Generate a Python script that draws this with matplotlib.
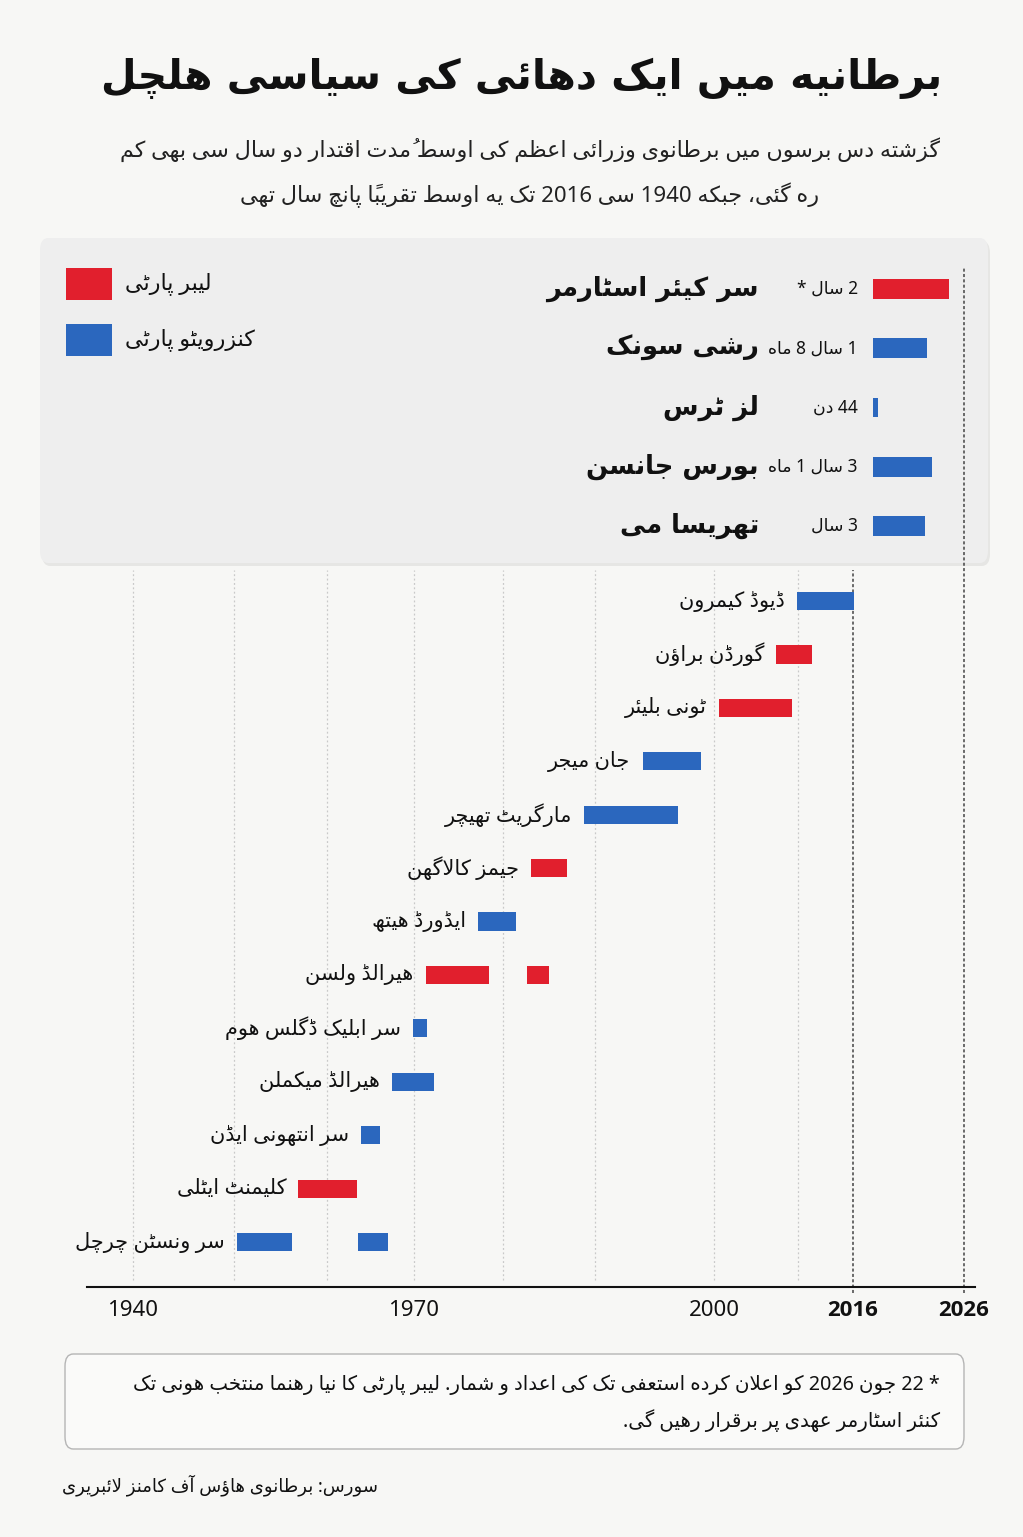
"""
UK prime ministers timeline (Urdu infographic) -> out.png
"""
import os

import numpy as np
import matplotlib
matplotlib.use("Agg")
import matplotlib.pyplot as plt
from matplotlib import font_manager
from matplotlib.font_manager import FontProperties
from matplotlib.patches import FancyBboxPatch, Rectangle

# ---------------- data ----------------
# last decade, shown in the top panel (bar length in years, as drawn)
RECENT_NAMES = ["سر کیئر اسٹارمر", "رشی سونک", "لز ٹرس", "بورس جانسن", "تھریسا مے"]
RECENT_LABELS = ["2 سال *", "1 سال 8 ماہ", "44 دن", "3 سال 1 ماہ", "3 سال"]
RECENT_PARTY = ["L", "C", "C", "C", "C"]
RECENT_LEN = [2.0, 1.42, 0.13, 1.55, 1.37]

# 1940-2016 timeline, top row first
PM_NAMES = ["ڈیوڈ کیمرون", "گورڈن براؤن", "ٹونی بلیئر", "جان میجر", "مارگریٹ تھیچر",
            "جیمز کالاگھن", "ایڈورڈ ہیتھ", "ہیرالڈ ولسن", "سر ابلیک ڈگلس ہوم",
            "ہیرالڈ میکملن", "سر انتھونی ایڈن", "کلیمنٹ ایٹلی", "سر ونسٹن چرچل"]
PM_PARTY = ["C", "L", "L", "C", "C", "L", "C", "L", "C", "C", "C", "L", "C"]
TERM1_START = [2009.9, 2007.4, 2000.6, 1994.0, 1988.8, 1983.0, 1977.2, 1971.3, 1969.9,
               1967.5, 1963.9, 1956.9, 1950.3]
TERM1_END = [2016.1, 2011.5, 2009.3, 1998.9, 1997.0, 1987.0, 1981.4, 1978.4, 1971.5,
             1972.2, 1966.1, 1963.5, 1956.2]
TERM2_START = [None] * 7 + [1982.6] + [None] * 4 + [1963.6]
TERM2_END = [None] * 7 + [1985.0] + [None] * 4 + [1967.0]

TICK_YEARS = [1940, 1970, 2000, 2016, 2026]
TICK_BOLD = [False, False, False, True, True]
GRID_YEARS = [1940, 1950, 1960, 1970, 1980, 1990, 2000, 2010]

TITLE = "برطانیہ میں ایک دہائی کی سیاسی ہلچل"
SUBTITLE = ["گزشتہ دس برسوں میں برطانوی وزرائے اعظم کی اوسط مُدت اقتدار دو سال سے بھی کم",
            "رہ گئی، جبکہ 1940 سے 2016 تک یہ اوسط تقریباً پانچ سال تھی"]
LEGEND = ["لیبر پارٹی", "کنزرویٹو پارٹی"]
NOTE = ["* 22 جون 2026 کو اعلان کردہ استعفے تک کے اعداد و شمار. لیبر پارٹی کا نیا رہنما منتخب ہونے تک",
        "کنئر اسٹارمر عہدے پر برقرار رہیں گے."]
SOURCE = "سورس: برطانوی ہاؤس آف کامنز لائبریری"

# ---------------- minimal arabic shaping (matplotlib has no text shaping) ----------------
FORMS = {
    "ا": (0xFE8D, 0xFE8E), "آ": (0xFE81, 0xFE82), "أ": (0xFE83, 0xFE84), "ؤ": (0xFE85, 0xFE86),
    "ئ": (0xFE89, 0xFE8A, 0xFE8B, 0xFE8C), "ب": (0xFE8F, 0xFE90, 0xFE91, 0xFE92),
    "ت": (0xFE95, 0xFE96, 0xFE97, 0xFE98), "ث": (0xFE99, 0xFE9A, 0xFE9B, 0xFE9C),
    "ج": (0xFE9D, 0xFE9E, 0xFE9F, 0xFEA0), "ح": (0xFEA1, 0xFEA2, 0xFEA3, 0xFEA4),
    "خ": (0xFEA5, 0xFEA6, 0xFEA7, 0xFEA8), "د": (0xFEA9, 0xFEAA), "ذ": (0xFEAB, 0xFEAC),
    "ر": (0xFEAD, 0xFEAE), "ز": (0xFEAF, 0xFEB0), "س": (0xFEB1, 0xFEB2, 0xFEB3, 0xFEB4),
    "ش": (0xFEB5, 0xFEB6, 0xFEB7, 0xFEB8), "ص": (0xFEB9, 0xFEBA, 0xFEBB, 0xFEBC),
    "ض": (0xFEBD, 0xFEBE, 0xFEBF, 0xFEC0), "ط": (0xFEC1, 0xFEC2, 0xFEC3, 0xFEC4),
    "ظ": (0xFEC5, 0xFEC6, 0xFEC7, 0xFEC8), "ع": (0xFEC9, 0xFECA, 0xFECB, 0xFECC),
    "غ": (0xFECD, 0xFECE, 0xFECF, 0xFED0), "ف": (0xFED1, 0xFED2, 0xFED3, 0xFED4),
    "ق": (0xFED5, 0xFED6, 0xFED7, 0xFED8), "ل": (0xFEDD, 0xFEDE, 0xFEDF, 0xFEE0),
    "م": (0xFEE1, 0xFEE2, 0xFEE3, 0xFEE4), "ن": (0xFEE5, 0xFEE6, 0xFEE7, 0xFEE8),
    "و": (0xFEED, 0xFEEE), "پ": (0xFB56, 0xFB57, 0xFB58, 0xFB59),
    "ٹ": (0xFB66, 0xFB67, 0xFB68, 0xFB69), "چ": (0xFB7A, 0xFB7B, 0xFB7C, 0xFB7D),
    "ڈ": (0xFB88, 0xFB89), "ڑ": (0xFB8C, 0xFB8D), "ژ": (0xFB8A, 0xFB8B),
    "ک": (0xFB8E, 0xFB8F, 0xFB90, 0xFB91), "گ": (0xFB92, 0xFB93, 0xFB94, 0xFB95),
    "ں": (0xFB9E, 0xFB9F), "ھ": (0xFBAA, 0xFBAB, 0xFBAC, 0xFBAD),
    # DejaVu lacks the heh-goal / barree-yeh forms: use the nearest glyphs it has
    "ہ": (0xFEE9, 0xFEEA, 0xFEEB, 0xFEEC), "ی": (0xFBFC, 0xFBFD, 0xFBFE, 0xFBFF),
    "ے": (0xFEEF, 0xFEF0),
}
MARKS = {chr(c) for c in range(0x064B, 0x0653)} | {"\u0670"}
LAM_ALEF = {"ا": (0xFEFB, 0xFEFC), "آ": (0xFEF5, 0xFEF6), "أ": (0xFEF7, 0xFEF8)}


def _jt(c):
    if c in MARKS:
        return "T"
    f = FORMS.get(c)
    if f is None:
        return "U"
    return "D" if len(f) == 4 else "R"


def shape(s):
    n = len(s)
    out, skip = [], set()
    for i, c in enumerate(s):
        if i in skip:
            continue
        if c not in FORMS:
            out.append(c)
            continue
        j = i - 1
        while j >= 0 and _jt(s[j]) == "T":
            j -= 1
        k = i + 1
        while k < n and _jt(s[k]) == "T":
            k += 1
        pj = j >= 0 and _jt(s[j]) == "D"
        if c == "ل" and k < n and s[k] in LAM_ALEF:
            out.append(chr(LAM_ALEF[s[k]][1 if pj else 0]))
            skip.add(k)
            continue
        f = FORMS[c]
        nj = len(f) == 4 and k < n and _jt(s[k]) in "DR"
        idx = 3 if (pj and nj) else 1 if pj else 2 if nj else 0
        out.append(chr(f[idx]))
    return "".join(out)


def ur(s):
    # shape, then put into visual (left to right) order; digit runs stay as they are
    segs = []
    for c in shape(s):
        if c in MARKS and segs:
            segs[-1][1] += c
        elif c.isascii() and c.isdigit() and segs and segs[-1][0] == "num":
            segs[-1][1] += c
        elif c.isascii() and c.isdigit():
            segs.append(["num", c])
        else:
            segs.append(["ch", c])
    return "".join(seg[1] for seg in reversed(segs))


def bold_family():
    # first sans family that really has a bold file installed
    for fam in ["Noto Sans", "Open Sans", "Roboto", "Lato", "DejaVu Sans"]:
        try:
            path = font_manager.findfont(FontProperties(family=fam, weight="bold"),
                                         fallback_to_default=False)
        except Exception:
            continue
        if "bold" in os.path.basename(path).lower():
            return fam
    return "DejaVu Sans"


# ---------------- figure ----------------
W, H = 1023, 1537
BG = "#f7f7f5"
PANEL = "#eeeeee"
RED = "#e11f2d"
BLUE = "#2b67be"
COLORS = {"L": RED, "C": BLUE}
FAM = ["Noto Sans", "DejaVu Sans"]
BOLDFAM = ["DejaVu Sans Condensed", "DejaVu Sans"]
DIGIT_BOLD = bold_family()

fig = plt.figure(figsize=(W / 100, H / 100), dpi=100)
fig.patch.set_facecolor(BG)


def fx(px):
    return px / W


def fy(py):
    return 1 - py / H


# title + subtitle
fig.text(fx(522), fy(78), ur(TITLE), ha="center", va="center", fontsize=29.5,
         fontweight="bold", family=BOLDFAM, color="#111111")
for line, py in zip(SUBTITLE, [150, 195]):
    fig.text(fx(530), fy(py), ur(line), ha="center", va="center", fontsize=16,
             family=FAM, color="#222222")

# grey panel for the last decade (with a faint shadow)
shadow = FancyBboxPatch((fx(42), fy(566)), fx(990) - fx(42), fy(241) - fy(566),
                        boxstyle="round,pad=0,rounding_size=0.008", transform=fig.transFigure,
                        facecolor="#e6e6e4", edgecolor="none", zorder=0.9)
fig.patches.append(shadow)
panel = FancyBboxPatch((fx(40), fy(563)), fx(988) - fx(40), fy(238) - fy(563),
                       boxstyle="round,pad=0,rounding_size=0.008", transform=fig.transFigure,
                       facecolor=PANEL, edgecolor="none", zorder=1)
fig.patches.append(panel)

# legend
for i, (lab, col) in enumerate(zip(LEGEND, [RED, BLUE])):
    top = [268, 324][i]
    fig.patches.append(Rectangle((fx(66), fy(top + 32)), fx(112) - fx(66), fy(top) - fy(top + 32),
                                 transform=fig.transFigure, facecolor=col, edgecolor="none", zorder=2))
    fig.text(fx(125), fy(top + 16), ur(lab), ha="left", va="center", fontsize=16,
             family=FAM, color="#111111", zorder=3)

# top panel bars
px_per_year = 38.0
axt = fig.add_axes([fx(873), fy(555.6), fx(873 + 90) - fx(873), fy(259.4) - fy(555.6)])
axt.set_zorder(2)
axt.patch.set_alpha(0)
axt.set_xlim(0, 90 / px_per_year)
axt.set_ylim(len(RECENT_NAMES) - 0.5, -0.5)
axt.axis("off")
ry = np.arange(len(RECENT_NAMES))
axt.barh(ry, RECENT_LEN, left=0, height=0.33, color=[COLORS[p] for p in RECENT_PARTY])
for y, name, lab in zip(ry, RECENT_NAMES, RECENT_LABELS):
    axt.annotate(ur(lab), (0, y), xytext=(-15, 0), textcoords="offset pixels",
                 ha="right", va="center", fontsize=12.5, family=FAM, color="#111111")
    axt.annotate(ur(name), (0, y), xytext=(-114, 0), textcoords="offset pixels",
                 ha="right", va="center", fontsize=18.5, fontweight="bold",
                 family=BOLDFAM, color="#111111")

# main timeline axes; the printed year axis is uneven, so use a piecewise scale
AXIS_YEARS = [1900, 1940, 1950, 1960, 1970, 1980, 1990, 2000, 2010, 2016, 2026, 2100]
AXIS_PX = [133 - 40 * 10.1, 133, 234, 327, 414, 503, 595, 714, 798, 853, 964, 964 + 74 * 11.1]


def fwd(v):
    return np.interp(v, AXIS_YEARS, AXIS_PX)


def inv(p):
    return np.interp(p, AXIS_PX, AXIS_YEARS)


ax_top, ax_bot = 570, 1287
ax = fig.add_axes([fx(87), fy(ax_bot), fx(975) - fx(87), fy(ax_top) - fy(ax_bot)])
ax.set_zorder(2)
ax.patch.set_alpha(0)
ax.set_xscale("function", functions=(fwd, inv))
ax.set_xlim(inv(87), inv(975))
row_px = 53.42
first_row = 601
ax.set_ylim((ax_bot - first_row) / row_px, -(first_row - ax_top) / row_px)
ax_h = ax_bot - ax_top

for yr in GRID_YEARS:
    ax.axvline(yr, ymin=7 / ax_h, ymax=1, color="#c9c9c9", lw=0.9, ls=(0, (1.5, 2)), zorder=0)
ax.axvline(2016, ymin=-6 / ax_h, ymax=1, color="#444444", lw=1.1, ls=(0, (2, 1.5)),
           clip_on=False, zorder=1)
ax.axvline(2026, ymin=-6 / ax_h, ymax=(ax_bot - 268) / ax_h, color="#444444", lw=1.1,
           ls=(0, (2, 1.5)), clip_on=False, zorder=1)

rows = np.arange(len(PM_NAMES))
for y, name, party, s1, e1, s2, e2 in zip(rows, PM_NAMES, PM_PARTY, TERM1_START, TERM1_END,
                                           TERM2_START, TERM2_END):
    col = COLORS[party]
    ax.barh(y, e1 - s1, left=s1, height=0.34, color=col, zorder=2)
    if s2 is not None:
        ax.barh(y, e2 - s2, left=s2, height=0.34, color=col, zorder=2)
    ax.annotate(ur(name), (s1, y), xytext=(-12, 0), textcoords="offset pixels",
                ha="right", va="center", fontsize=15, family=FAM, color="#111111")

for side in ["top", "right", "left"]:
    ax.spines[side].set_visible(False)
ax.spines["bottom"].set_linewidth(1.5)
ax.spines["bottom"].set_color("#111111")
ax.set_yticks([])
ax.set_xticks([])
ax.set_xticks([], minor=True)
for yr, bold in zip(TICK_YEARS, TICK_BOLD):
    ax.annotate(str(yr), (yr, 0), xycoords=("data", "axes fraction"), xytext=(0, -23),
                textcoords="offset pixels", ha="center", va="center", fontsize=16,
                fontweight="bold" if bold else "normal",
                family=[DIGIT_BOLD if bold else "Noto Sans"], color="#111111")

# footnote box
note = FancyBboxPatch((fx(65), fy(1449)), fx(964) - fx(65), fy(1354) - fy(1449),
                      boxstyle="round,pad=0,rounding_size=0.008", transform=fig.transFigure,
                      facecolor="#fafaf9", edgecolor="#b5b5b5", lw=1.0, zorder=1)
fig.patches.append(note)
for line, py in zip(NOTE, [1385, 1421]):
    fig.text(fx(940), fy(py), ur(line), ha="right", va="center", fontsize=14.2,
             family=FAM, color="#111111", zorder=3)

fig.text(fx(62), fy(1485), ur(SOURCE), ha="left", va="center", fontsize=13,
         family=FAM, color="#111111")

fig.savefig("out.png", dpi=100, facecolor=BG)
